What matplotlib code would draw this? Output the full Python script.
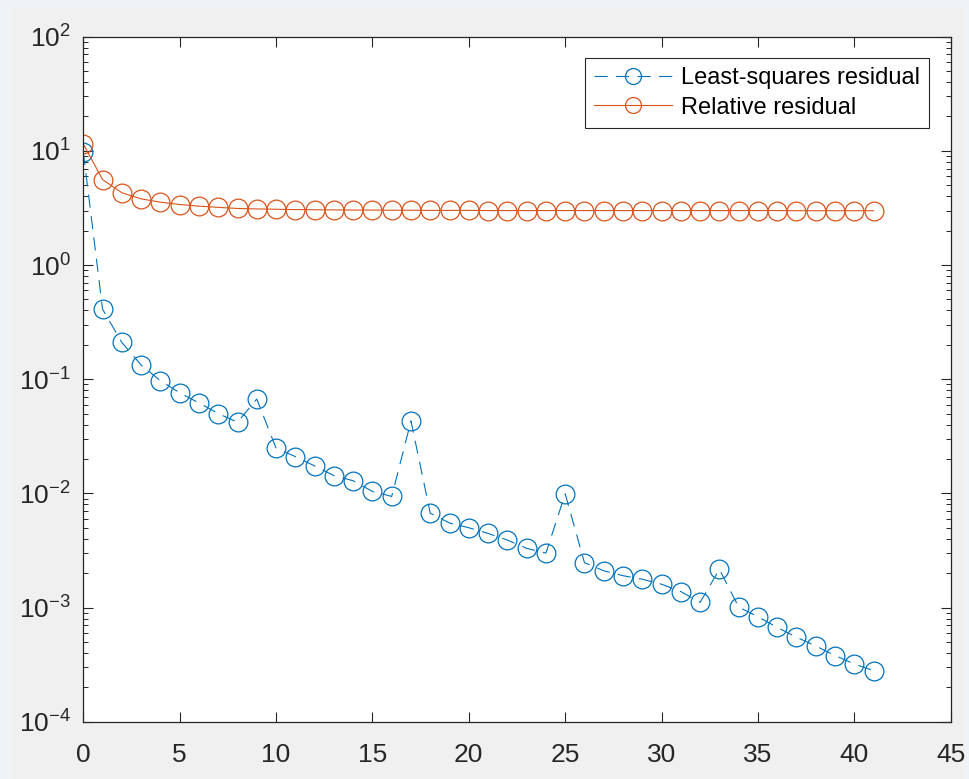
import matplotlib
matplotlib.use("Agg")
import matplotlib.pyplot as plt
from matplotlib.patches import Rectangle
from matplotlib.ticker import FixedLocator, LogLocator, NullFormatter, FuncFormatter
import math

plt.rcParams['font.family'] = ['Liberation Sans', 'DejaVu Sans']
plt.rcParams['mathtext.fontset'] = 'custom'
plt.rcParams['mathtext.rm'] = 'Liberation Sans'
plt.rcParams['mathtext.it'] = 'Liberation Sans'
plt.rcParams['lines.scale_dashes'] = False

iterations = list(range(42))
ls_residual = [9.8, 0.41, 0.21, 0.133, 0.097, 0.076, 0.062, 0.050, 0.042, 0.067,
               0.0249, 0.021, 0.0174, 0.0143, 0.0129, 0.0104, 0.0094, 0.043, 0.0067, 0.0055,
               0.0050, 0.00446, 0.0039, 0.0033, 0.0030, 0.0099, 0.00247, 0.0021, 0.0019, 0.00177,
               0.0016, 0.00138, 0.00111, 0.00216, 0.00101, 0.00083, 0.00067, 0.00055, 0.00046, 0.00038,
               0.00032, 0.00028]
rel_residual = [11.5, 5.6, 4.3, 3.8, 3.55, 3.39, 3.28, 3.2, 3.13, 3.1,
                3.08, 3.06, 3.05, 3.04, 3.03, 3.03, 3.02, 3.02, 3.01, 3.01,
                3.01, 3.0, 3.0, 3.0, 3.0, 3.0, 3.0, 3.0, 3.0, 3.0,
                3.0, 3.0, 3.0, 3.0, 3.0, 3.0, 3.0, 2.99, 2.99, 2.99,
                2.99, 2.99]
labels = ["Least-squares residual", "Relative residual"]
x_ticks = [0, 5, 10, 15, 20, 25, 30, 35, 40, 45]
y_ticks = [1e-4, 1e-3, 1e-2, 1e-1, 1e0, 1e1, 1e2]

W, H = 970, 779
fig = plt.figure(figsize=(W / 100, H / 100), dpi=100, facecolor='#eef3f8')
bg = Rectangle((11 / W, 0), (965 - 11) / W, (H - 7) / H,
               transform=fig.transFigure, facecolor='#f0f0f0',
               edgecolor='none', zorder=-10)
fig.add_artist(bg)

ax = fig.add_axes([83.3 / W, (H - 721.7) / H, (950.7 - 83.3) / W, (721.7 - 36.7) / H])
ax.set_zorder(5)
ax.set_facecolor('white')

blue = '#0072BD'
orange = '#D95319'
ax.plot(iterations, ls_residual, color=blue, linestyle=(0, (9.5, 6)), linewidth=0.8,
        marker='o', markersize=13.5, markerfacecolor='none', markeredgewidth=0.9,
        markeredgecolor=blue, label=labels[0])
ax.plot(iterations, rel_residual, color=orange, linestyle='-', linewidth=0.8,
        marker='o', markersize=13.5, markerfacecolor='none', markeredgewidth=0.9,
        markeredgecolor=orange, label=labels[1])

ax.set_yscale('log')
ax.set_xlim(0, 45)
ax.set_ylim(1e-4, 1e2)
ax.xaxis.set_major_locator(FixedLocator(x_ticks))
ax.yaxis.set_major_locator(FixedLocator(y_ticks))
ax.yaxis.set_minor_locator(LogLocator(base=10, subs=range(2, 10), numticks=100))
ax.yaxis.set_minor_formatter(NullFormatter())

def fmt(v, pos):
    e = int(round(math.log10(v)))
    return r'$10^{%d}$' % e

ax.yaxis.set_major_formatter(FuncFormatter(fmt))

axcol = '#262626'
for s in ax.spines.values():
    s.set_color(axcol)
    s.set_linewidth(0.9)
ax.tick_params(axis='both', which='both', direction='in', top=True, right=True,
               colors=axcol, labelcolor=axcol, labelsize=19)
ax.tick_params(axis='both', which='major', length=7, width=0.8)
ax.tick_params(axis='x', which='major', pad=15.5)
ax.tick_params(axis='y', which='major', pad=9)
ax.tick_params(axis='y', which='minor', length=3.5, width=0.7)

leg = ax.legend(loc='upper right', bbox_to_anchor=(929 / W, (H - 58) / H),
                bbox_transform=fig.transFigure, fontsize=17, frameon=True,
                fancybox=False, framealpha=1, edgecolor=axcol, handlelength=3.3,
                handletextpad=0.35, borderpad=0.4, labelspacing=0.3, borderaxespad=0,
                markerscale=0.85)
leg.get_frame().set_linewidth(0.8)

fig.savefig('out.png', dpi=100, facecolor=fig.get_facecolor())
